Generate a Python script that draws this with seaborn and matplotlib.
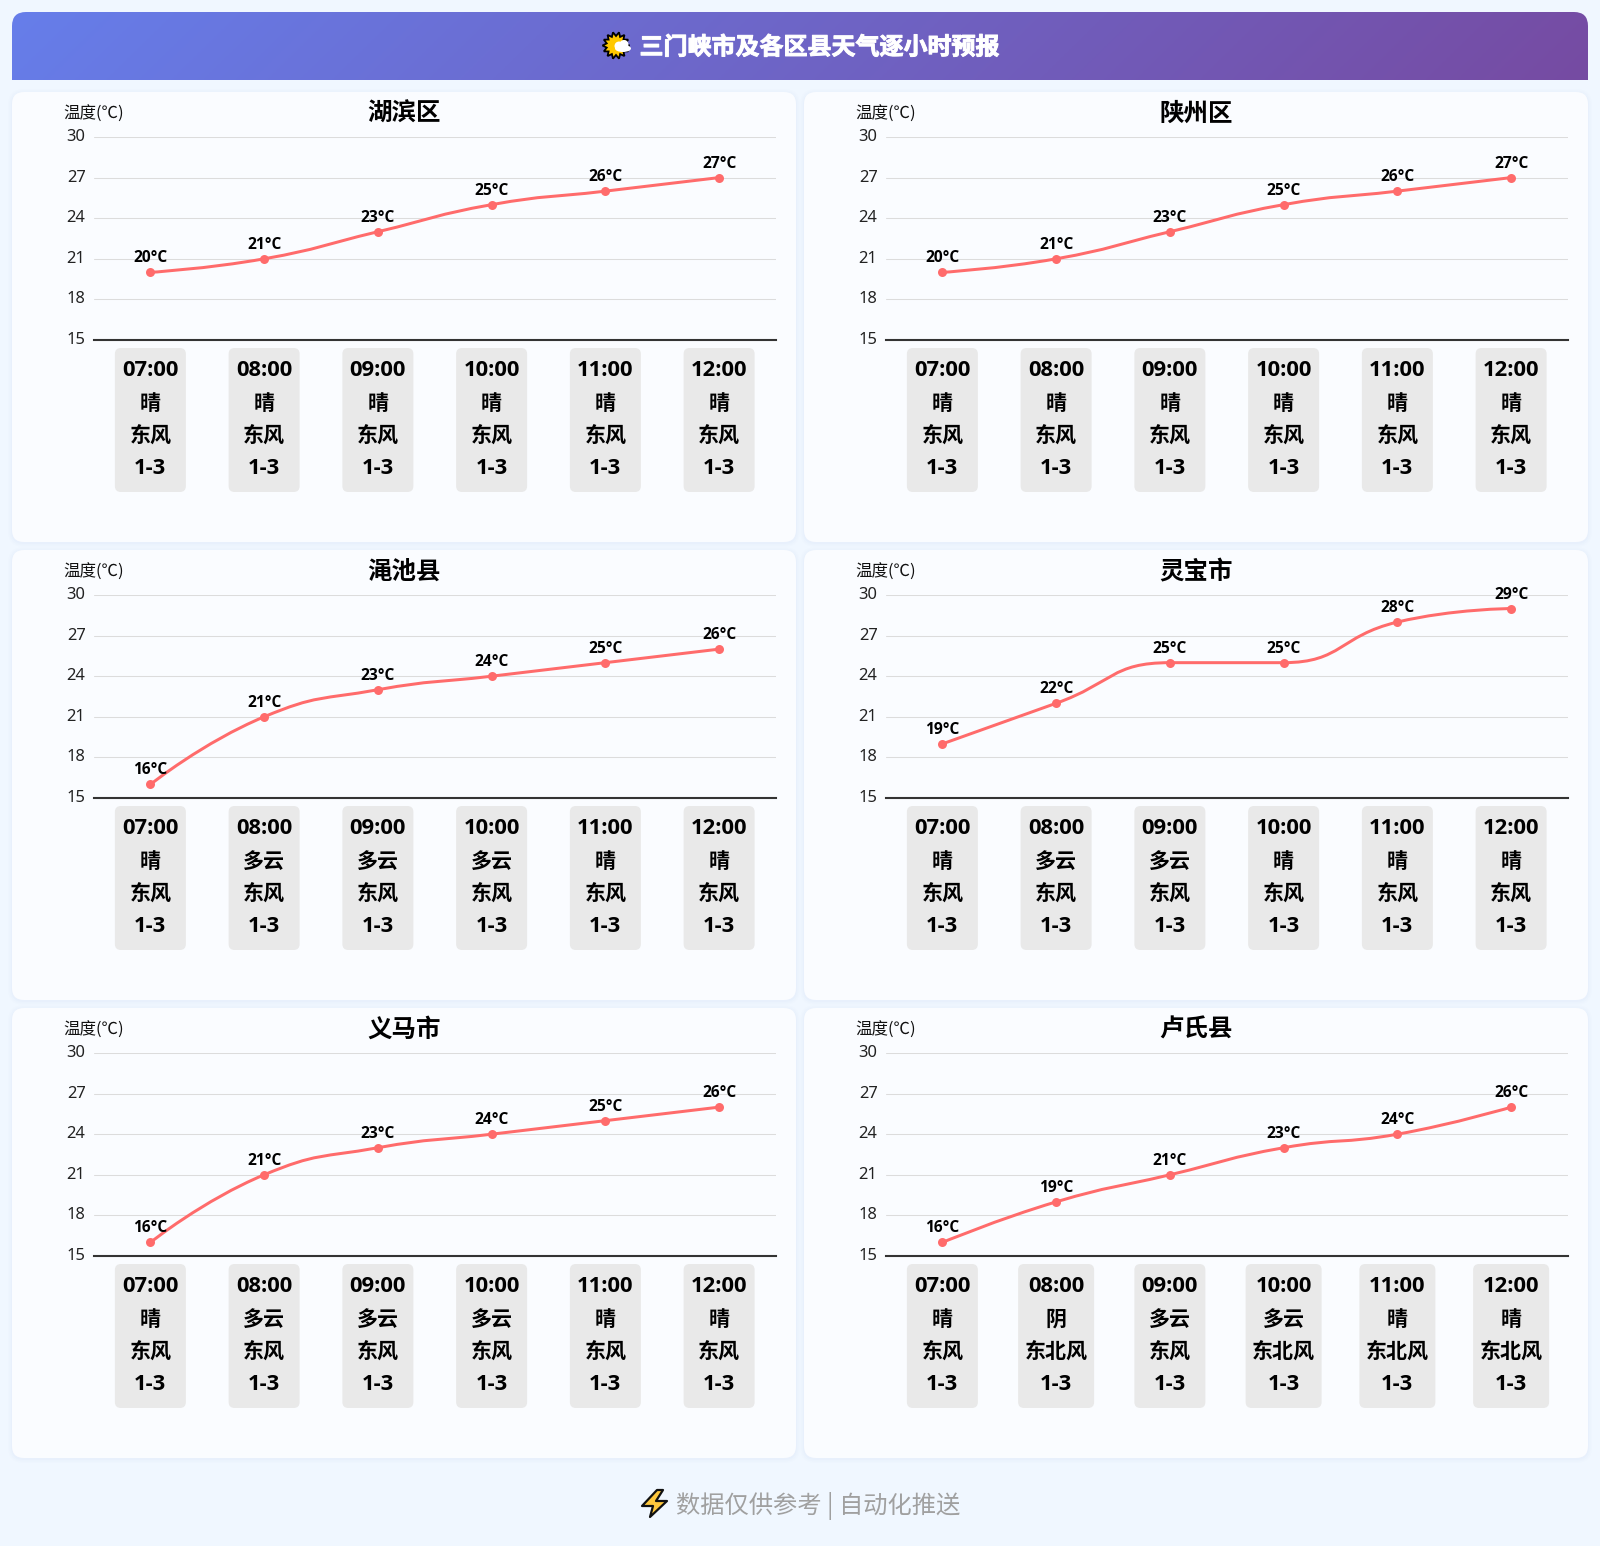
import numpy as np
import pandas as pd
import matplotlib
matplotlib.use('Agg')
import matplotlib.pyplot as plt
import matplotlib.patheffects as pe
import matplotlib.transforms as mtrans
import seaborn as sns
from matplotlib.patches import FancyBboxPatch, PathPatch, Polygon, Ellipse
from matplotlib.path import Path

hours = ['07:00', '08:00', '09:00', '10:00', '11:00', '12:00']
y_ticks = [15, 18, 21, 24, 27, 30]
wind_level = '1-3'

names = ['湖滨区', '陕州区', '渑池县', '灵宝市', '义马市', '卢氏县']

temp_hubin = [20, 21, 23, 25, 26, 27]
temp_shanzhou = [20, 21, 23, 25, 26, 27]
temp_mianchi = [16, 21, 23, 24, 25, 26]
temp_lingbao = [19, 22, 25, 25, 28, 29]
temp_yima = [16, 21, 23, 24, 25, 26]
temp_lushi = [16, 19, 21, 23, 24, 26]

sky_hubin = ['晴', '晴', '晴', '晴', '晴', '晴']
sky_shanzhou = ['晴', '晴', '晴', '晴', '晴', '晴']
sky_mianchi = ['晴', '多云', '多云', '多云', '晴', '晴']
sky_lingbao = ['晴', '多云', '多云', '晴', '晴', '晴']
sky_yima = ['晴', '多云', '多云', '多云', '晴', '晴']
sky_lushi = ['晴', '阴', '多云', '多云', '晴', '晴']

wind_east = ['东风', '东风', '东风', '东风', '东风', '东风']
wind_lushi = ['东风', '东北风', '东风', '东北风', '东北风', '东北风']

temps = [temp_hubin, temp_shanzhou, temp_mianchi, temp_lingbao, temp_yima, temp_lushi]
skies = [sky_hubin, sky_shanzhou, sky_mianchi, sky_lingbao, sky_yima, sky_lushi]
winds = [wind_east, wind_east, wind_east, wind_east, wind_east, wind_lushi]

W, H = 1600, 1546
LINE = '#ff6b6b'
CJK = ['Open Sans', 'Noto Sans CJK SC', 'DejaVu Sans']


def px(v):
    return v * 0.72


def smooth_path(xs, ys, sx, sy, smooth=0.5):
    # bezier through the points, same idea as a smoothed web chart line
    p = np.column_stack([np.asarray(xs, float) * sx, np.asarray(ys, float) * sy])
    n = len(p)
    verts = [p[0]]
    codes = [Path.MOVETO]
    cp0 = p[0].copy()
    for i in range(1, n):
        cur = p[i]
        if i == n - 1:
            cp1 = cur.copy()
            next_cp = cur.copy()
        else:
            prev, nxt = p[i - 1], p[i + 1]
            v = nxt - prev
            len_prev = np.hypot(*(cur - prev))
            len_next = np.hypot(*(nxt - cur))
            ratio = len_next / (len_next + len_prev)
            next_cp = cur + v * smooth * ratio
            next_cp = np.clip(next_cp, np.minimum(cur, nxt), np.maximum(cur, nxt))
            cp1 = cur - (next_cp - cur) * len_prev / len_next
            cp1 = np.clip(cp1, np.minimum(cur, prev), np.maximum(cur, prev))
            next_cp = cur + (cur - cp1) * len_next / len_prev
        verts += [cp0, cp1, cur]
        codes += [Path.CURVE4, Path.CURVE4, Path.CURVE4]
        cp0 = next_cp
    verts = np.array(verts) / np.array([sx, sy])
    return Path(verts, codes)


sns.set_theme(style='white')
plt.rcParams['font.family'] = CJK

fig = plt.figure(figsize=(16, 15.46), dpi=100, facecolor='#f0f7ff')

# whole-figure layer in pixels, for cards, header and footer
bg = fig.add_axes([0, 0, 1, 1], zorder=0)
bg.set_axis_off()

# header gradient
gx, gy = np.meshgrid(np.linspace(0, 1576, 400), np.linspace(0, 68, 40))
t = (gx - 788 + gy - 34) / (1576 + 68) + 0.5
c0 = np.array([0x66, 0x7e, 0xea]) / 255
c1 = np.array([0x76, 0x4b, 0xa2]) / 255
grad = c0[None, None, :] + t[..., None] * (c1 - c0)[None, None, :]
im = bg.imshow(grad, extent=[12, 1588, 80, 12], aspect='auto', zorder=1)
r = 14
head = Path([(12, 80), (12, 12 + r), (12, 12), (12 + r, 12), (1588 - r, 12), (1588, 12), (1588, 12 + r),
             (1588, 80), (12, 80)],
            [Path.MOVETO, Path.LINETO, Path.CURVE3, Path.CURVE3, Path.LINETO, Path.CURVE3, Path.CURVE3,
             Path.LINETO, Path.CLOSEPOLY])
bg.set_xlim(0, W)
bg.set_ylim(H, 0)
im.set_clip_path(PathPatch(head, transform=bg.transData))

bg.text(639.5, 48.5, '三门峡市及各区县天气逐小时预报', color='white', fontsize=px(24), fontweight='bold',
        ha='left', va='center', family=CJK, zorder=3,
        path_effects=[pe.withStroke(linewidth=0.7, foreground='white')])

# sun behind cloud icon
ang = np.linspace(0, 2 * np.pi, 28, endpoint=False)
rad = np.where(np.arange(28) % 2 == 0, 13.5, 9.5)
star = np.column_stack([616 + rad * np.cos(ang), 45.5 + rad * np.sin(ang)])
bg.add_patch(Polygon(star, closed=True, fc='#ffc800', ec='black', lw=1.3, zorder=3))
for cx, cy, ew, eh in [(623, 48.5, 16, 7), (619, 46, 9, 9), (624, 44.5, 9, 9)]:
    bg.add_patch(Ellipse((cx, cy), ew, eh, fc='white', ec='none', zorder=4))

# footer
bg.add_patch(Polygon([(657, 1490), (642, 1506), (653, 1506), (650, 1517), (667, 1501), (656, 1501), (663, 1490)],
                     closed=True, fc='#ffc83d', ec='#111111', lw=1.6, joinstyle='round', zorder=3))
bg.text(676.5, 1506, '数据仅供参考 | 自动化推送', color='#a0a0a0', fontsize=px(24.3), ha='left', va='center',
        family=['Noto Sans CJK SC', 'DejaVu Sans'], zorder=3)

for i, name in enumerate(names):
    off_x = 792 * (i % 2)
    off_y = 458 * (i // 2)

    # card with faint shadow
    for grow, alpha in [(4, 0.012), (2.5, 0.015), (1, 0.02)]:
        bg.add_patch(FancyBboxPatch((12 + off_x - grow, 92 + off_y - grow + 1), 784 + 2 * grow, 450 + 2 * grow,
                                    boxstyle='round,pad=0,rounding_size=%g' % (12 + grow),
                                    fc='#667eea', ec='none', alpha=alpha, zorder=1))
    bg.add_patch(FancyBboxPatch((12 + off_x, 92 + off_y), 784, 450, boxstyle='round,pad=0,rounding_size=12',
                                fc='#fafcff', ec='none', zorder=2))

    ax = fig.add_axes([(93.5 + off_x) / W, 1 - (340 + off_y) / H, 682.5 / W, 203 / H], zorder=1)
    ax.patch.set_alpha(0)

    df = pd.DataFrame({'hour': hours, 'temp': temps[i]})
    sns.scatterplot(data=df, x='hour', y='temp', color=LINE, s=px(9) ** 2, linewidth=0, ax=ax,
                    clip_on=False, zorder=4)
    ax.set_xlim(-0.5, 5.5)
    ax.set_ylim(15, 30)
    ax.set_yticks(y_ticks)
    ax.set_yticklabels([str(v) for v in y_ticks], fontsize=px(16.5), color='#222222',
                       family=['Noto Sans', 'Noto Sans CJK SC'], fontweight='light')
    ax.set_xticks([])
    ax.set_xlabel('')
    ax.set_ylabel('')
    ax.grid(axis='y', color='#dcdcdc', lw=0.75)
    ax.grid(axis='x', visible=False)
    ax.set_axisbelow(True)
    sns.despine(ax=ax, left=True)
    ax.spines['top'].set_visible(False)
    ax.spines['bottom'].set_color('#333333')
    ax.spines['bottom'].set_linewidth(1.5)
    ax.tick_params(axis='y', length=0, pad=px(8))
    # tick labels sit a little above their gridlines
    nudge = mtrans.ScaledTranslation(0, 2 / 100, fig.dpi_scale_trans)
    for lab in ax.get_yticklabels():
        lab.set_transform(lab.get_transform() + nudge)

    curve = smooth_path(range(6), temps[i], 682.5 / 6, 203 / 15)
    ax.add_patch(PathPatch(curve, fc='none', ec=LINE, lw=px(3), zorder=3, capstyle='round'))

    for j, v in enumerate(temps[i]):
        ax.annotate('%d°C' % v, xy=(j, v), xytext=(0, px(14)), textcoords='offset points', ha='center', va='center',
                    fontsize=px(15.5), fontweight='bold', color='black', family=CJK, zorder=5)

    ax.set_title(name, fontsize=px(24.5), fontweight='bold', color='black', pad=px(16), family=CJK,
                 x=(404 - 93.5) / 682.5)
    ax.annotate('温度(℃)', xy=(0, 1), xycoords='axes fraction', xytext=(0, px(23)), textcoords='offset points',
                ha='center', va='center', fontsize=px(16.5), color='#111111',
                family=['Noto Sans CJK SC', 'DejaVu Sans'])

    # hour boxes under the axis, lined up with the x scale
    for j, hour in enumerate(hours):
        disp = ax.transData.transform((j, 15))
        cx = bg.transData.inverted().transform(disp)[0]
        bw = 76 if len(winds[i][j]) > 2 else 71
        bg.add_patch(FancyBboxPatch((cx - bw / 2, 348 + off_y), bw, 144, boxstyle='round,pad=0,rounding_size=6',
                                    fc='#e9e9e9', ec='none', zorder=3))
        rows = [hour, skies[i][j], winds[i][j], wind_level]
        sizes = [22, 21, 21, 22]
        for txt, ty, fs in zip(rows, [371, 404, 436.5, 468], sizes):
            bg.text(cx, ty + off_y, txt, ha='center', va='center', fontsize=px(fs), fontweight='bold',
                    color='black', family=CJK, zorder=4)

fig.savefig('out.png', dpi=100, facecolor=fig.get_facecolor())
